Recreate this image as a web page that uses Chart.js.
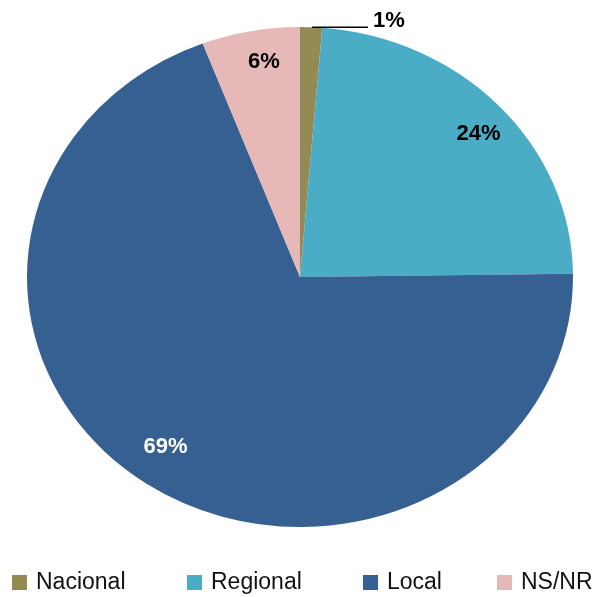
<!DOCTYPE html>
<html lang="es">
<head>
<meta charset="UTF-8">
<title>Ámbito</title>
<script src="https://cdn.jsdelivr.net/npm/chart.js"></script>
<style>
  body { margin: 0; background: #fff; }
  #wrap { width: 594px; height: 597px; }
</style>
</head>
<body>
<div id="wrap"><canvas id="myChart" width="594" height="597"></canvas></div>
<script>
// datos
const categories = ['Nacional', 'Regional', 'Local', 'NS/NR'];
const values = [1.3, 23.5, 69.4, 5.8];
const colors = ['#948A54', '#4BACC6', '#376092', '#E6B9B8'];
const labelColors = ['#000', '#000', '#fff', '#000'];

const squash = 250 / 273;  // el pie original esta aplastado (elipse)
const legendX = [12, 187, 363, 497];

// aplasta verticalmente los arcos
const ellipse = {
  id: 'ellipse',
  beforeDatasetsDraw(chart) {
    const arc = chart.getDatasetMeta(0).data[0];
    const c = chart.ctx;
    c.save();
    c.translate(arc.x, arc.y);
    c.scale(1, squash);
    c.translate(-arc.x, -arc.y);
  },
  afterDatasetsDraw(chart) {
    chart.ctx.restore();
  }
};

// etiquetas de porcentaje
const pctLabels = {
  id: 'pctLabels',
  afterDatasetsDraw(chart) {
    const c = chart.ctx;
    const arcs = chart.getDatasetMeta(0).data;
    c.save();
    c.font = 'bold 22px "Liberation Sans", Arial, sans-serif';
    c.textBaseline = 'middle';
    arcs.forEach((arc, i) => {
      const mid = (arc.startAngle + arc.endAngle) / 2;
      const r = arc.outerRadius;
      const txt = Math.round(values[i]) + '%';
      if (i === 0) {
        // etiqueta afuera con linea
        const x0 = arc.x + Math.cos(mid) * r;
        const y0 = arc.y + Math.sin(mid) * r * squash;
        c.strokeStyle = '#000';
        c.lineWidth = 1.5;
        c.beginPath();
        c.moveTo(x0 + 1, y0);
        c.lineTo(368, y0);
        c.stroke();
        c.fillStyle = '#000';
        c.textAlign = 'left';
        c.fillText(txt, 373, y0 - 6);
      } else {
        const k = i === 2 ? 0.84 : 0.87;
        const x = arc.x + Math.cos(mid + 0.03) * r * k;
        const y = arc.y + Math.sin(mid + 0.03) * r * k * squash;
        c.fillStyle = labelColors[i];
        c.textAlign = 'center';
        c.fillText(txt, x, y);
      }
    });
    c.restore();
  }
};

// leyenda abajo
const bottomLegend = {
  id: 'bottomLegend',
  afterDraw(chart) {
    const c = chart.ctx;
    c.save();
    c.font = '23px "Liberation Sans", Arial, sans-serif';
    c.textBaseline = 'middle';
    c.textAlign = 'left';
    categories.forEach((name, i) => {
      c.fillStyle = colors[i];
      c.fillRect(legendX[i], 575, 15, 15);
      c.fillStyle = '#111';
      c.fillText(name, legendX[i] + 24, 583);
    });
    c.restore();
  }
};

const ctx = document.querySelector('#myChart');
const myChart = new Chart(ctx, {
  type: 'pie',
  data: {
    labels: categories,
    datasets: [{
      data: values,
      backgroundColor: colors,
      borderWidth: 0,
      radius: 273
    }]
  },
  options: {
    responsive: false,
    animation: false,
    layout: { padding: { left: 6, right: 0, top: 0, bottom: 43 } },
    plugins: {
      legend: { display: false },
      tooltip: { enabled: false }
    }
  },
  plugins: [ellipse, pctLabels, bottomLegend]
});
</script>
</body>
</html>
